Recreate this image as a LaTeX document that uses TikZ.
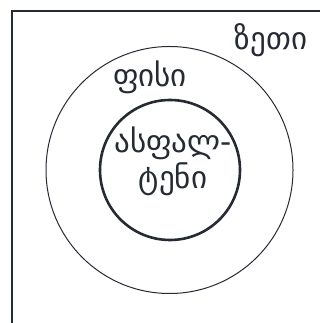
\documentclass[tikz,border=0pt]{standalone}
\usepackage{fontspec}
\newfontfamily\geofont{DejaVu Sans}
\definecolor{ink}{HTML}{262B33}
\begin{document}
\begin{tikzpicture}[x=1pt,y=1pt,
  ring/.style={draw=ink,circle,inner sep=0pt},
  lbl/.style={text=ink,font=\geofont\fontsize{31}{36}\selectfont,inner sep=0pt,align=center}]
\useasboundingbox (0,0) rectangle (320,323);
\coordinate (fa) at (12,0);
\coordinate (fb) at (12,312);
\coordinate (fc) at (321,312);
\draw[ink,line width=1.6pt] (fa) -- (fb) -- (fc);
\node[ring,line width=1pt,minimum size=247] (outer) at (169.5,153) {};
\node[ring,line width=2.6pt,minimum size=140] (inner) at (170,153) {};
\node[lbl] (zeti) at (271,283) {ზეთი};
\node[lbl] (pisi) at (150,246) {ფისი};
\node[lbl] (asf) at (173,162) {ასფალ-\\ტენი};
\end{tikzpicture}
\end{document}
